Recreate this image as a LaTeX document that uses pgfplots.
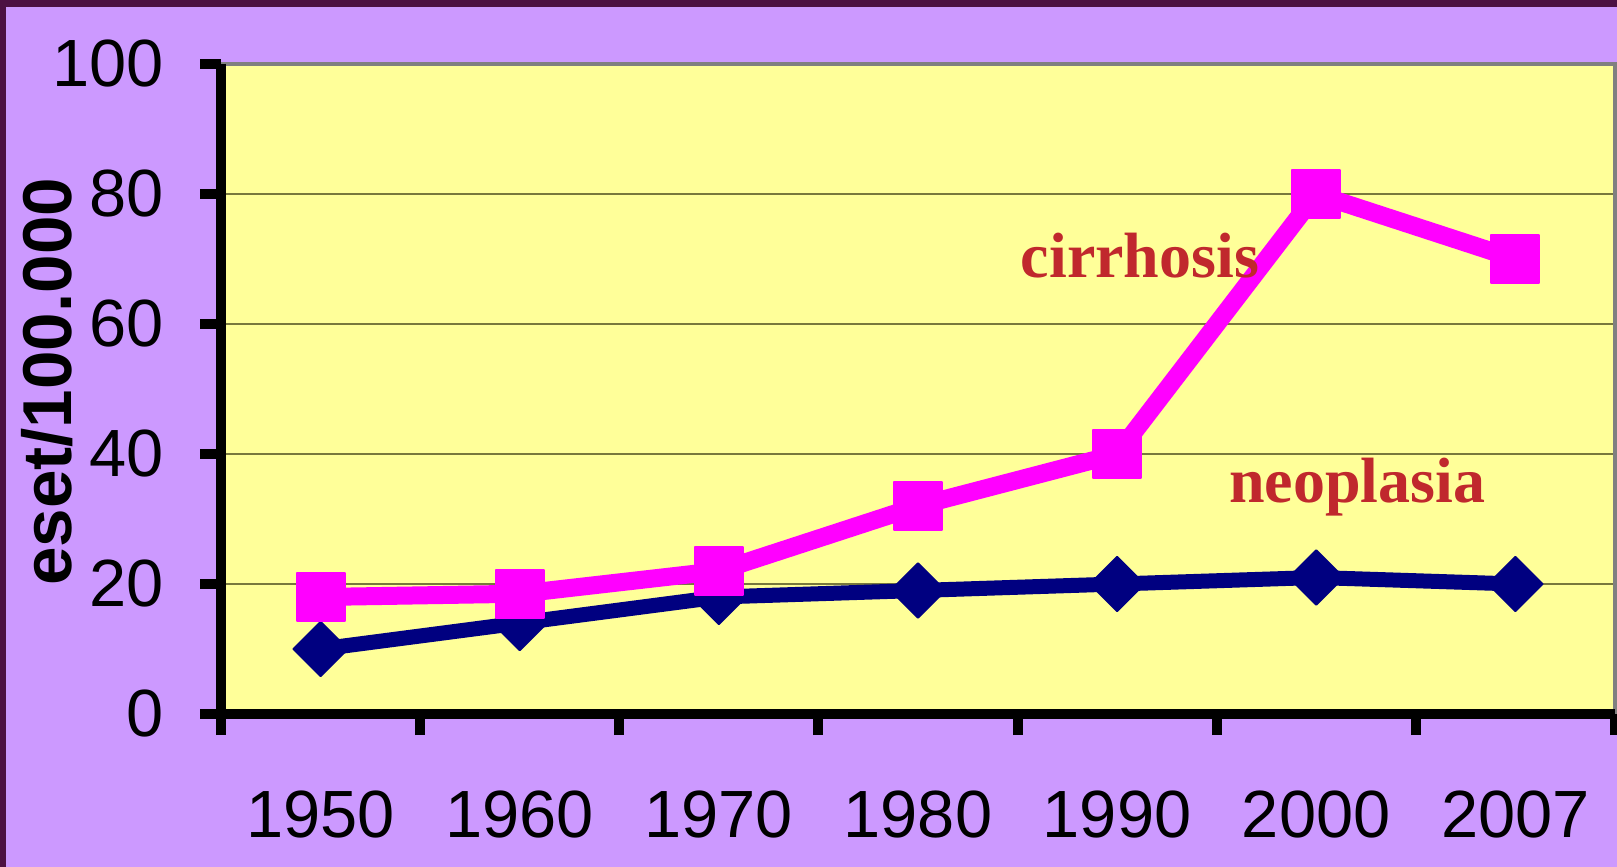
\documentclass[border=0pt]{standalone}
\usepackage{fontspec}
\setmainfont{Liberation Sans}
\newfontfamily\annfont{Liberation Serif}
\usepackage{pgfplots}
\pgfplotsset{compat=1.18}
\definecolor{bgpurple}{RGB}{204,153,255}
\definecolor{borderc}{RGB}{76,17,66}
\definecolor{plotyellow}{RGB}{255,255,153}
\definecolor{gridc}{RGB}{120,120,60}
\definecolor{cirr}{RGB}{255,0,255}
\definecolor{neo}{RGB}{0,0,128}
\definecolor{anncol}{RGB}{192,40,45}
\begin{document}
\begin{tikzpicture}
\path[use as bounding box] (0,0) rectangle (404.25pt,216.75pt);
\fill[borderc] (0,0) rectangle (404.25pt,216.75pt);
\fill[bgpurple] (1.6pt,0) rectangle (404.25pt,214.9pt);
\begin{axis}[
 at={(55.25pt,38.25pt)}, anchor=south west,
 scale only axis, width=348.5pt, height=162.5pt,
 xmin=0.5, xmax=7.5, ymin=0, ymax=100,
 axis line style={draw=none},
 axis background/.style={fill=plotyellow},
 xtick={1,...,7}, xticklabels={1950,1960,1970,1980,1990,2000,2007},
 minor xtick={0.5,1.5,...,7.5},
 ytick={0,20,...,100},
 xtick pos=bottom, ytick pos=left,
 tick align=outside,
 major tick length=5.25pt, minor tick length=5.25pt,
 major x tick style={draw=none},
 tick style={line width=2.5pt, black},
 ymajorgrids, major grid style={gridc, line width=0.5pt},
 ticklabel style={font=\fontsize{16.7}{19}\selectfont},
 /pgf/number format/assume math mode=true,
 xticklabel style={yshift=-10.5pt},
 yticklabel style={xshift=-5.5pt},
 ylabel={\bfseries eset/100.000},
 every axis y label/.style={at={(axis description cs:-0.1245,0.511)}, rotate=90, anchor=center, font=\fontsize{17.3}{20}\selectfont},
 clip=false,
]
\addplot[neo, line width=3.75pt, line join=round, mark=square*, mark size=4.8pt, mark options={rotate=45, fill=neo, line width=0.5pt}] coordinates {(1,10)(2,14)(3,18)(4,19)(5,20)(6,21)(7,20)};
\addplot[cirr, line width=4.5pt, line join=round, mark=square*, mark size=6pt, mark options={fill=cirr, line width=0.5pt}] coordinates {(1,18)(2,18.5)(3,22)(4,32)(5,40)(6,80)(7,70)};
\draw[gray, line width=1pt] (rel axis cs:0,1) -- (rel axis cs:1,1) -- (rel axis cs:1,0);
\draw[black, line width=2.5pt] (rel axis cs:0,1) -- (rel axis cs:0,0) -- (rel axis cs:1,0);
\node[anchor=base, font=\annfont\bfseries\fontsize{16}{19}\selectfont, text=anncol, inner sep=0pt] at (axis cs:5.115,67.1) {cirrhosis};
\node[anchor=base, font=\annfont\bfseries\fontsize{16}{19}\selectfont, text=anncol, inner sep=0pt] at (axis cs:6.205,32.5) {neoplasia};
\end{axis}
\end{tikzpicture}
\end{document}
